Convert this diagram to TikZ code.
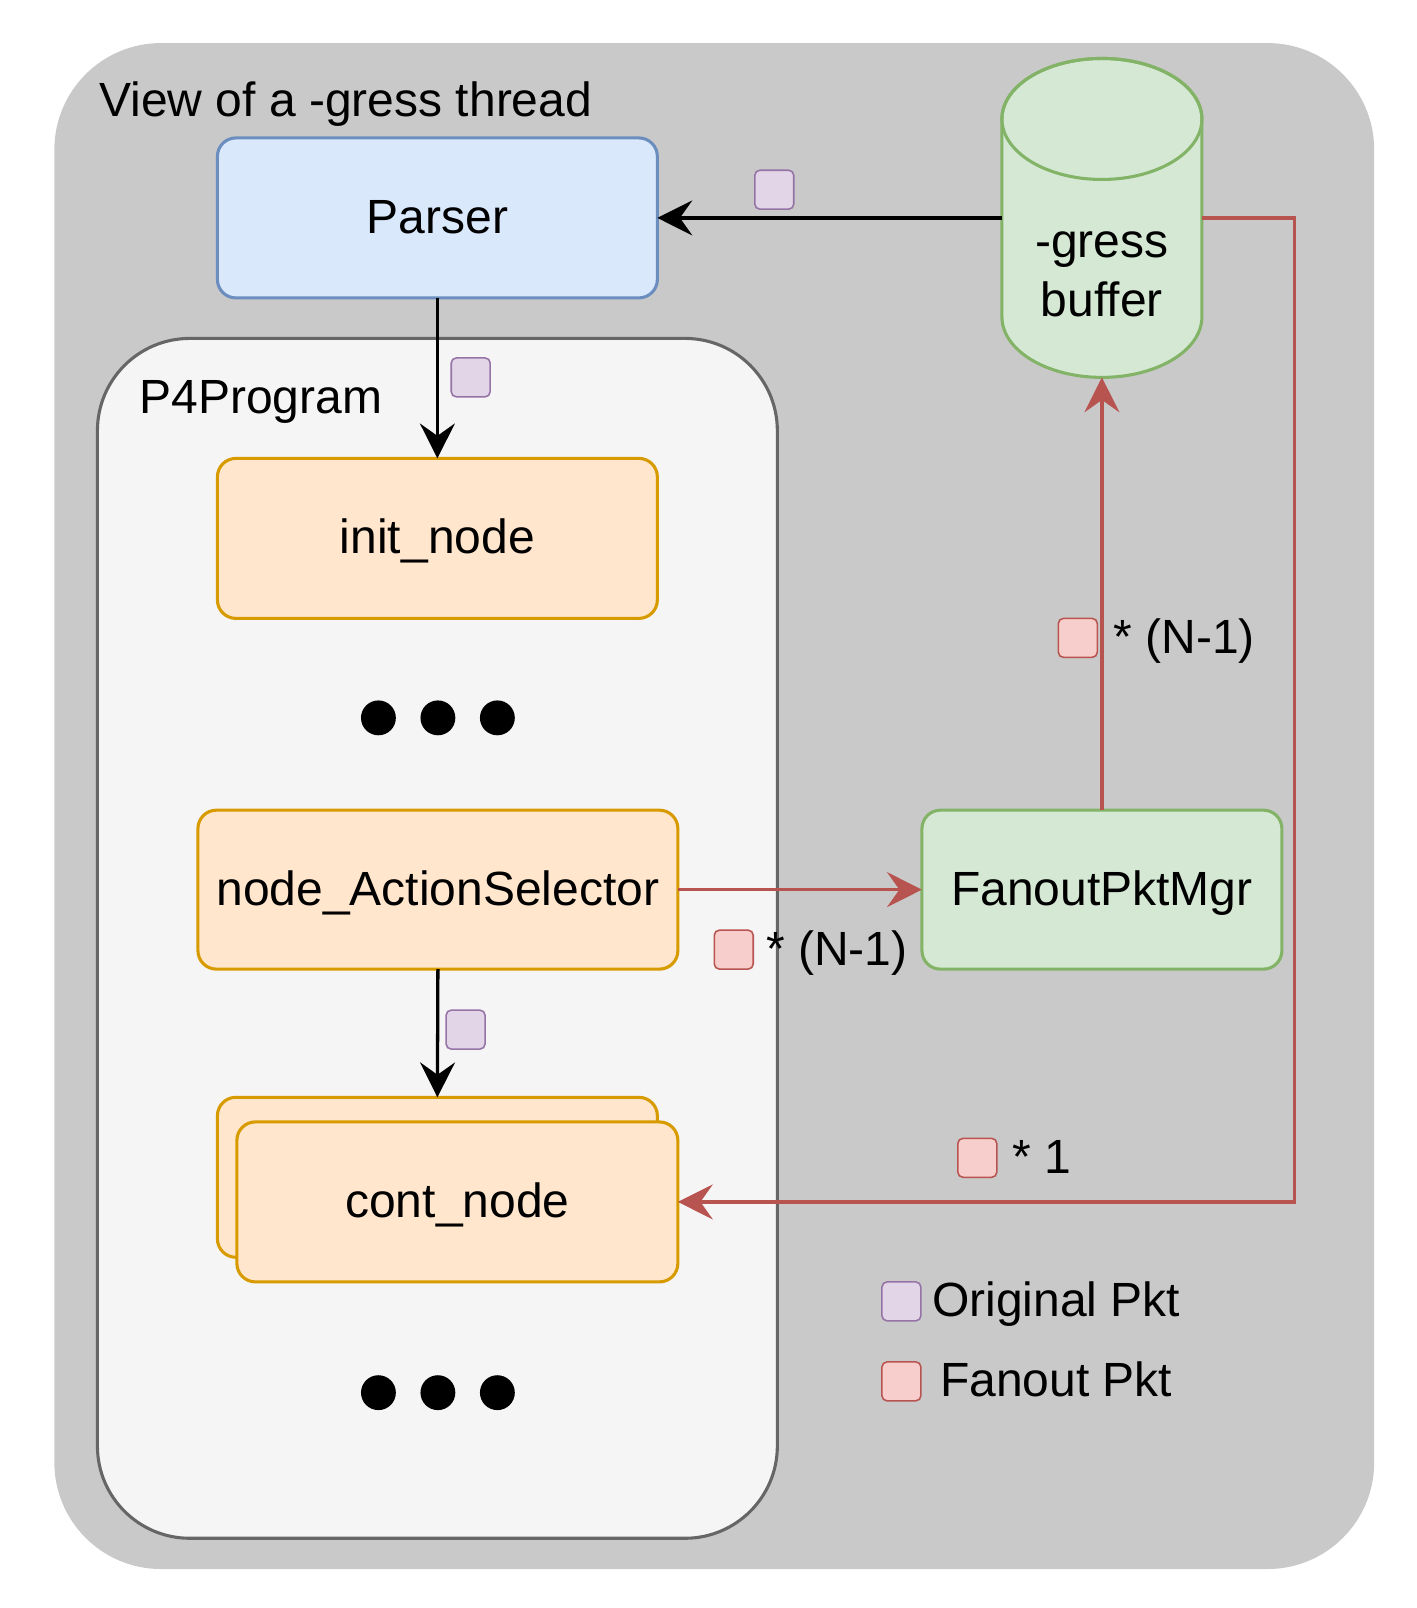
\documentclass[tikz,border=0pt]{standalone}
\usepackage{fontspec}
\setmainfont{Liberation Sans}
\usetikzlibrary{arrows.meta}
\definecolor{bggray}{HTML}{C9C9C9}
\definecolor{bluefill}{HTML}{DAE8FC}
\definecolor{bluedraw}{HTML}{6C8EBF}
\definecolor{orfill}{HTML}{FFE6CC}
\definecolor{ordraw}{HTML}{D79B00}
\definecolor{grfill}{HTML}{D5E8D4}
\definecolor{grdraw}{HTML}{82B366}
\definecolor{pgfill}{HTML}{F5F5F5}
\definecolor{pgdraw}{HTML}{666666}
\definecolor{pufill}{HTML}{E1D5E7}
\definecolor{pudraw}{HTML}{9673A6}
\definecolor{rdfill}{HTML}{F8CECC}
\definecolor{rddraw}{HTML}{B85450}
\begin{document}
\begin{tikzpicture}[x=0.5pt,y=-0.5pt,
  every node/.style={font=\fontsize{23.4pt}{29pt}\selectfont, inner sep=0pt, outer sep=0pt},
  sz/.style 2 args={minimum width=#1*0.5pt, minimum height=#2*0.5pt},
  lbl/.style={text height=18pt, text depth=3pt},
  boxbase/.style={draw, line width=1.5pt, rounded corners=9pt, lbl},
  bluebox/.style={boxbase, fill=bluefill, draw=bluedraw},
  orangebox/.style={boxbase, fill=orfill, draw=ordraw},
  greenbox/.style={boxbase, fill=grfill, draw=grdraw},
  pktpu/.style={draw=pudraw, fill=pufill, line width=0.75pt, rounded corners=2.5pt, minimum size=19pt},
  pktrd/.style={draw=rddraw, fill=rdfill, line width=0.75pt, rounded corners=2.5pt, minimum size=19pt},
  dotn/.style={circle, fill=black, minimum size=17pt},
  blkarrow/.style={draw=black, line width=1.6pt, -{Stealth[length=17pt,width=17pt,inset=6pt]}},
  redarrow/.style={draw=rddraw, line width=1.6pt, -{Stealth[length=17pt,width=17pt,inset=6pt]}}
]
\useasboundingbox (0,0) rectangle (1381,1568);

% outer container
\node[fill=bggray, rounded corners=52pt, sz={1287}{1488}] (outer) at (696.5,786) {};
\node[anchor=base west] (title) at (97,114) {View of a -gress thread};

% parser
\node[bluebox, sz={429}{156}] (parser) at (426.5,212.5) {Parser};

% P4 program container
\node[draw=pgdraw, fill=pgfill, line width=1.5pt, rounded corners=45pt, sz={663}{1170}] (p4) at (426.5,915) {};
\node[anchor=base west] (p4lbl) at (136,403) {P4Program};

\node[orangebox, sz={429}{156}] (init) at (426.5,525) {init\_node};

\node[dotn] (d1) at (369,700) {};
\node[dotn] (d2) at (427,700) {};
\node[dotn] (d3) at (485,700) {};

\node[orangebox, sz={468}{155}] (nas) at (427,867.5) {node\_ActionSelector};

\node[orangebox, sz={429}{156}] (contback) at (426.5,1148) {};
\node[orangebox, sz={430}{156}] (cont) at (446,1172) {cont\_node};

\node[dotn] (e1) at (369,1358) {};
\node[dotn] (e2) at (427,1358) {};
\node[dotn] (e3) at (485,1358) {};

% fanout manager
\node[greenbox, sz={351}{155}] (fanout) at (1074.5,867.5) {FanoutPktMgr};

% cylinder buffer
\path[fill=grfill, draw=grdraw, line width=1.5pt]
  (977,116) -- (977,309)
  arc[start angle=180, end angle=360, x radius=48.75pt, y radius=29.5pt]
  -- (1172,116)
  arc[start angle=0, end angle=180, x radius=48.75pt, y radius=29.5pt] -- cycle;
\draw[draw=grdraw, line width=1.5pt] (1074.5,116) ellipse [x radius=48.75pt, y radius=29.5pt];
\node[sz={195}{311}] (buf) at (1074.5,212.5) {};
\node[anchor=base] (buf1) at (1074.5,251) {-gress};
\node[anchor=base] (buf2) at (1074.5,309) {buffer};

% connectors
\draw[blkarrow] (buf.west) -- (parser.east);
\draw[blkarrow] (parser.south) -- (init.north);
\draw[blkarrow] (nas.south) -- (contback.north);
\draw[redarrow] (nas.east) -- (fanout.west);
\draw[redarrow] (fanout.north) -- (buf.south);
\coordinate (rc) at (1262,212.5);
\draw[redarrow] (buf.east) -- (rc) |- (cont.east);

% packet markers
\node[pktpu] (p1) at (755,185) {};
\node[pktpu] (p2) at (459,368) {};
\node[pktpu] (p3) at (454,1004) {};
\node[pktrd] (r1) at (1051,622) {};
\node[anchor=base west] (r1t) at (1086,637) {* (N-1)};
\node[pktrd] (r2) at (715.5,926) {};
\node[anchor=base west] (r2t) at (747,941) {* (N-1)};
\node[pktrd] (r3) at (953,1129) {};
\node[anchor=base west] (r3t) at (987,1144) {* 1};

% legend
\node[pktpu] (lg1) at (879,1269) {};
\node[anchor=base] (lg1t) at (1030,1284) {Original Pkt};
\node[pktrd] (lg2) at (879,1347) {};
\node[anchor=base] (lg2t) at (1030,1362) {Fanout Pkt};
\end{tikzpicture}
\end{document}
